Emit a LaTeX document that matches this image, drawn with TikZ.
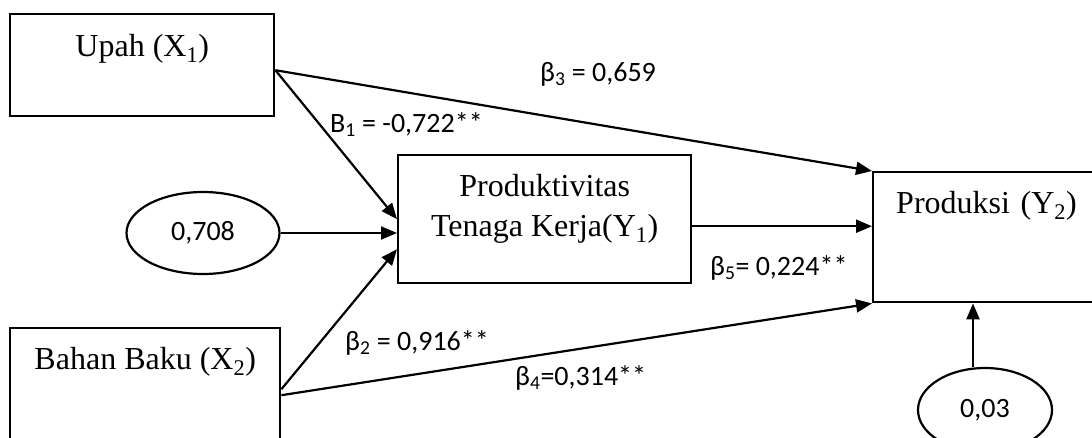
\documentclass[tikz,border=0pt]{standalone}
\usepackage{fontspec}
\setmainfont{Liberation Serif}
\newfontfamily\coeffont{Carlito}
\usetikzlibrary{arrows.meta,shapes.geometric,calc}

\begin{document}
\begin{tikzpicture}[
  x=1pt, y=-1pt,
  every node/.style={align=center},
  box/.style={draw=black, line width=2.4pt, rectangle, inner sep=0pt, anchor=north west, font=\fontsize{32}{40}\selectfont},
  err/.style={draw=black, line width=2.2pt, ellipse, inner sep=0pt, font=\coeffont\fontsize{28}{34}\selectfont},
  coef/.style={font=\coeffont\fontsize{28}{34}\selectfont, anchor=base west, inner sep=0pt},
  arr/.style={-{Triangle[length=16pt,width=13pt]}, line width=2.2pt}
]
\path[use as bounding box, clip] (0,0) rectangle (1092,437);

% variables
\node[box, minimum width=264pt, minimum height=102pt, text height=42pt, text depth=60pt] (upah) at (9,13) {Upah (X\textsubscript{1})};
\node[box, minimum width=270pt, minimum height=122pt, text height=41pt, text depth=81pt] (bahan) at (9,327) {Bahan Baku (X\textsubscript{2})};
\node[box, minimum width=293pt, minimum height=128pt, text height=81pt, text depth=47pt] (ptk) at (397,154) {Produktivitas\\Tenaga Kerja(Y\textsubscript{1})};
\node[box, inner xsep=23pt, text width=204pt, align=left, minimum height=130pt, text height=41pt, text depth=89pt] (prod) at (872,171) {Produksi (Y\textsubscript{2})};

% error terms
\node[err, minimum width=153pt, minimum height=82pt] (e1) at (203,233) {0,708};
\node[err, minimum width=134pt, minimum height=84pt] (e2) at (985,410) {0,03};

% paths
\draw[arr] ($(upah.east)+(0,5)$) -- (ptk.west);
\draw[arr] ($(upah.east)+(0,5)$) -- (prod.north west);
\draw[arr] (e1.east) -- (e1.east -| ptk.west);
\draw[arr] (bahan.east) -- ($(ptk.west)+(0,30)$);
\draw[arr] ($(bahan.east)+(0,6)$) -- (prod.south west);
\draw[arr] ($(ptk.east)+(0,7)$) coordinate (m) -- (m -| prod.west);
\draw[arr] ($(e2.north)+(-12,0)$) coordinate (n) -- (n |- prod.south);

% coefficients
\node[coef] (b3) at (540,81) {β\textsubscript{3} = 0,659};
\node[coef] (b1) at (330,132) {B\textsubscript{1} = -0,722**};
\node[coef] (b2) at (345,350) {β\textsubscript{2} = 0,916**};
\node[coef] (b4) at (515,385) {β\textsubscript{4}=0,314**};
\node[coef] (b5) at (710,275) {β\textsubscript{5}= 0,224**};

\end{tikzpicture}
\end{document}
